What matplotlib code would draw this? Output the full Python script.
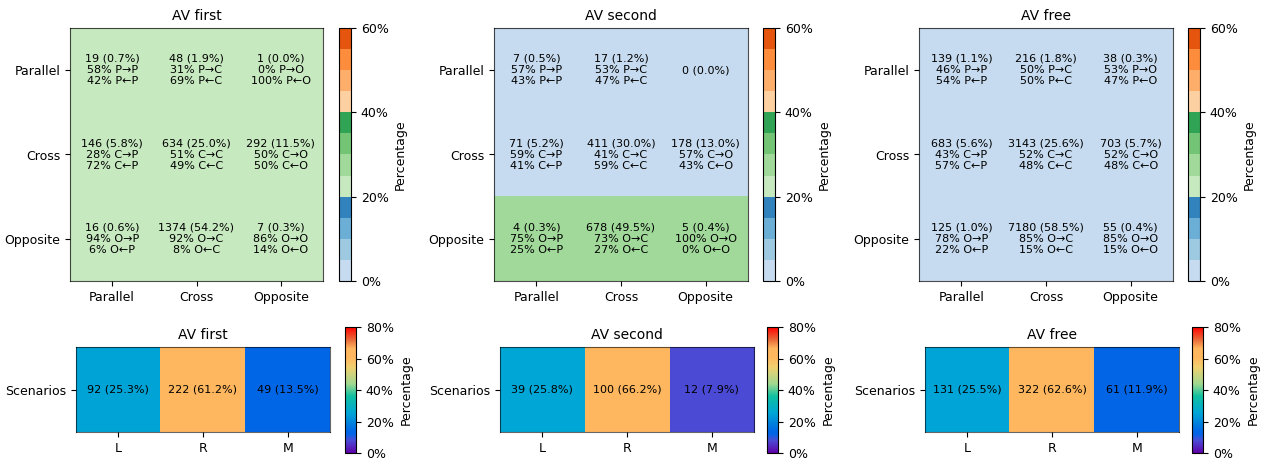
import numpy as np
import matplotlib
matplotlib.use("Agg")
import matplotlib.pyplot as plt
from matplotlib.colors import ListedColormap, LinearSegmentedColormap

# ---- data ----
directions = ["Parallel", "Cross", "Opposite"]
short = ["P", "C", "O"]
titles = ["AV first", "AV second", "AV free"]

first_counts = [[19, 48, 1], [146, 634, 292], [16, 1374, 7]]
first_pct = [[0.7, 1.9, 0.0], [5.8, 25.0, 11.5], [0.6, 54.2, 0.3]]
first_fwd = [[58, 31, 0], [28, 51, 50], [94, 92, 86]]
first_bwd = [[42, 69, 100], [72, 49, 50], [6, 8, 14]]
first_shade = [[22, 22, 22], [22, 22, 22], [22, 22, 22]]

second_counts = [[7, 17, 0], [71, 411, 178], [4, 678, 5]]
second_pct = [[0.5, 1.2, 0.0], [5.2, 30.0, 13.0], [0.3, 49.5, 0.4]]
second_fwd = [[57, 53, None], [59, 41, 57], [75, 73, 100]]
second_bwd = [[43, 47, None], [41, 59, 43], [25, 27, 0]]
second_shade = [[2, 2, 2], [2, 2, 2], [27, 27, 27]]

free_counts = [[139, 216, 38], [683, 3143, 703], [125, 7180, 55]]
free_pct = [[1.1, 1.8, 0.3], [5.6, 25.6, 5.7], [1.0, 58.5, 0.4]]
free_fwd = [[46, 50, 53], [43, 52, 52], [78, 85, 85]]
free_bwd = [[54, 50, 47], [57, 48, 48], [22, 15, 15]]
free_shade = [[2, 2, 2], [2, 2, 2], [2, 2, 2]]

scen_labels = ["L", "R", "M"]
first_scen = [92, 222, 49]
first_scen_pct = [25.3, 61.2, 13.5]
second_scen = [39, 100, 12]
second_scen_pct = [25.8, 66.2, 7.9]
free_scen = [131, 322, 61]
free_scen_pct = [25.5, 62.6, 11.9]

# ---- colormaps ----
top_cmap = ListedColormap(["#c6dbef", "#9ecae1", "#6baed6", "#3182bd",
                           "#c7e9c0", "#a1d99b", "#74c476", "#31a354",
                           "#fdd0a2", "#fdae6b", "#fd8d3c", "#e6550d"])
bot_cmap = LinearSegmentedColormap.from_list("scen", [
    (0.0, "#6000a8"), (0.099, "#4b4bd6"), (0.15, "#0066e6"), (0.17, "#0066e6"),
    (0.25, "#0088dc"), (0.32, "#00a6d6"), (0.45, "#10c0a0"), (0.55, "#a0d890"),
    (0.68, "#f0d070"), (0.76, "#ffb75f"), (0.83, "#ffb75f"), (0.9, "#e86a3a"),
    (1.0, "#ff0000")])

plt.rcParams["xtick.labelsize"] = 9
plt.rcParams["ytick.labelsize"] = 9

W, H = 1267, 461
fig = plt.figure(figsize=(W / 100, H / 100), dpi=100)


def box(x0, y0, x1, y1):
    # pixel box (top-left origin) -> figure fraction rect
    return [x0 / W, 1 - y1 / H, (x1 - x0) / W, (y1 - y0) / H]


top_panels = [
    (first_counts, first_pct, first_fwd, first_bwd, first_shade),
    (second_counts, second_pct, second_fwd, second_bwd, second_shade),
    (free_counts, free_pct, free_fwd, free_bwd, free_shade),
]
top_hm = [(70, 323), (494, 748), (919, 1173)]
top_cb = [(339, 351), (763, 775), (1188, 1200)]

for i, (counts, pct, fwd, bwd, shade) in enumerate(top_panels):
    ax = fig.add_axes(box(top_hm[i][0], 28, top_hm[i][1], 281))
    im = ax.imshow(np.array(shade, dtype=float), cmap=top_cmap, vmin=0, vmax=60, aspect="auto")
    for r in range(3):
        for c in range(3):
            txt = f"{counts[r][c]} ({pct[r][c]:.1f}%)"
            if fwd[r][c] is not None:
                txt += f"\n{fwd[r][c]}% {short[r]}\u2192{short[c]}\n{bwd[r][c]}% {short[r]}\u2190{short[c]}"
            ax.text(c, r, txt, ha="center", va="center", fontsize=8, linespacing=1.15)
    ax.set_xticks(range(3))
    ax.set_xticklabels(directions)
    ax.set_yticks(range(3))
    ax.set_yticklabels(directions)
    ax.set_title(titles[i], fontsize=10)
    for sp in ax.spines.values():
        sp.set_alpha(0.7)
    cax = fig.add_axes(box(top_cb[i][0], 28, top_cb[i][1], 281))
    cb = fig.colorbar(im, cax=cax)
    cb.set_ticks([0, 20, 40, 60])
    cb.set_ticklabels(["0%", "20%", "40%", "60%"])
    cb.set_label("Percentage", fontsize=9)

bot_panels = [
    (first_scen, first_scen_pct),
    (second_scen, second_scen_pct),
    (free_scen, free_scen_pct),
]
bot_hm = [(76, 330), (500, 754), (925, 1179)]
bot_cb = [(345, 356), (767, 778), (1192, 1203)]

for i, (counts, pct) in enumerate(bot_panels):
    ax = fig.add_axes(box(bot_hm[i][0], 347, bot_hm[i][1], 432))
    im = ax.imshow(np.array([pct]), cmap=bot_cmap, vmin=0, vmax=80, aspect="auto")
    for c in range(3):
        ax.text(c, 0, f"{counts[c]} ({pct[c]:.1f}%)", ha="center", va="center", fontsize=8)
    ax.set_xticks(range(3))
    ax.set_xticklabels(scen_labels)
    ax.set_yticks([0])
    ax.set_yticklabels(["Scenarios"])
    ax.set_title(titles[i], fontsize=10)
    for sp in ax.spines.values():
        sp.set_alpha(0.6)
    cax = fig.add_axes(box(bot_cb[i][0], 327, bot_cb[i][1], 453))
    cb = fig.colorbar(im, cax=cax)
    cb.set_ticks([0, 20, 40, 60, 80])
    cb.set_ticklabels(["0%", "20%", "40%", "60%", "80%"])
    cb.set_label("Percentage", fontsize=9)

fig.savefig("out.png", dpi=100)
